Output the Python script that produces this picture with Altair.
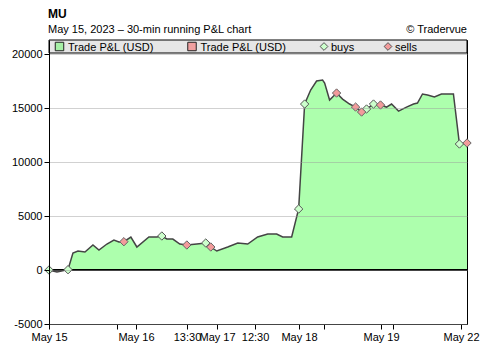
import json
import altair as alt
import pandas as pd

# time position in trading-day units (May 15 = 0, May 22 = 5)
t_days = [0, 0.097, 0.231, 0.291, 0.352, 0.437, 0.534, 0.607, 0.704, 0.789, 0.850, 0.910,
          0.995, 1.068, 1.214, 1.311, 1.371, 1.432, 1.505, 1.590, 1.675, 1.796, 1.905, 1.966,
          2.039, 2.172, 2.294, 2.415, 2.536, 2.658, 2.767, 2.840, 2.949, 3.034, 3.107, 3.180,
          3.252, 3.325, 3.350, 3.410, 3.495, 3.568, 3.653, 3.726, 3.799, 3.859, 3.944, 4.029,
          4.102, 4.163, 4.248, 4.345, 4.430, 4.478, 4.539, 4.600, 4.684, 4.769, 4.915, 4.988, 5.08]
pnl = [0, -185, 30, 1574, 1760, 1667, 2315, 1852, 2408, 2778, 2593, 2620,
       3056, 2130, 3056, 3056, 3148, 2870, 2870, 2408, 2315, 2408, 2500, 2130,
       1760, 2130, 2500, 2408, 3056, 3334, 3334, 3056, 3056, 5650, 15370, 16670,
       17500, 17590, 17320, 15740, 16390, 15830, 15370, 15090, 14630, 14910, 15370, 15280,
       15090, 15370, 14720, 15090, 15370, 15460, 16300, 16200, 16020, 16300, 16300, 11670, 11760]
side = ["buy", "", "buy", "", "", "", "", "", "", "", "", "sell",
        "", "", "", "", "buy", "", "", "", "sell", "", "buy", "sell",
        "", "", "", "", "", "", "", "", "", "buy", "buy", "",
        "", "", "", "", "sell", "", "", "sell", "sell", "buy", "buy", "sell",
        "", "", "", "", "", "", "", "", "", "", "", "buy", "sell"]

tick_vals = [0, 0.826, 1.057, 1.677, 2.042, 2.504, 3.038, 3.342, 4.035, 4.181, 5.007]
tick_labels = ["May 15", "", "May 16", "13:30", "May 17", "12:30", "May 18", "", "May 19", "", "May 22"]
y_ticks = [-5000, 0, 5000, 10000, 15000, 20000]

legend_labels = ["Trade P&L (USD)", "Trade P&L (USD)", "buys", "sells"]
legend_shapes = ["square", "square", "diamond", "diamond"]
legend_fills = ["#a6f0a6", "#f0a0a0", "#ccffcc", "#f29b9b"]
legend_strokes = ["#222222", "#222222", "#555555", "#555555"]
legend_sym_x = [10.5, 143, 275, 339]
legend_txt_x = [19, 151.5, 282, 346]

FONT = "Liberation Sans"
W, H = 418, 284

df = pd.DataFrame({"t": t_days, "v": pnl, "side": side})
df["pos"] = df["v"].clip(lower=0)
df["neg"] = df["v"].clip(upper=0)
df["zero"] = 0

label_expr = f"{json.dumps(tick_labels)}[indexof({json.dumps(tick_vals)}, datum.value)]"

xs = alt.Scale(domain=[0, 5.08], nice=False, zero=False)
ys = alt.Scale(domain=[-5000, 21300], nice=False)

x_axis = alt.Axis(values=tick_vals, labelExpr=label_expr, grid=False, title=None, tickSize=5,
                  labelPadding=2, domainColor="black", tickColor="black", labelColor="black",
                  labelFontSize=11, labelFont=FONT, labelOverlap=False, labelFlush=False)
y_axis = alt.Axis(values=y_ticks, labelExpr="'' + datum.value", grid=True, gridColor="#999999",
                  gridOpacity=0.45, title=None, tickSize=5, labelPadding=2, domainColor="black",
                  tickColor="black", labelColor="black", labelFontSize=11, labelFont=FONT, zindex=1)

base = alt.Chart(df)

area_pos = base.mark_area(color="#adffad", opacity=1).encode(
    x=alt.X("t:Q", scale=xs, axis=x_axis),
    y=alt.Y("pos:Q", scale=ys, axis=y_axis),
    y2="zero:Q",
)
area_neg = base.mark_area(color="#f0a0a0", opacity=1).encode(
    x=alt.X("t:Q"), y=alt.Y("neg:Q"), y2="zero:Q"
)
zero_rule = base.mark_rule(color="black", strokeWidth=1).encode(
    y=alt.datum(0)
)
line = base.mark_line(color="#444444", strokeWidth=1.5).encode(
    x=alt.X("t:Q"), y=alt.Y("v:Q")
)
buys = base.transform_filter(alt.datum.side == "buy").mark_point(
    shape="diamond", filled=True, fill="#ccffcc", stroke="#555555", strokeWidth=1,
    size=70, opacity=1
).encode(x=alt.X("t:Q"), y=alt.Y("v:Q"))
sells = base.transform_filter(alt.datum.side == "sell").mark_point(
    shape="diamond", filled=True, fill="#f29b9b", stroke="#666666", strokeWidth=1,
    size=70, opacity=1, clip=False
).encode(x=alt.X("t:Q"), y=alt.Y("v:Q"))

one = pd.DataFrame({"a": [0]})

# legend band across the top of the plot
leg_layers = [alt.Chart(one).mark_rect(
    fill="#e6e6e6", stroke="black", strokeWidth=1
).encode(x=alt.value(0), x2=alt.value(W), y=alt.value(0), y2=alt.value(13))]

for lab, shp, fil, stk, sx, tx in zip(legend_labels, legend_shapes, legend_fills,
                                       legend_strokes, legend_sym_x, legend_txt_x):
    leg_layers.append(alt.Chart(one).mark_point(
        shape=shp, filled=True, fill=fil, stroke=stk, strokeWidth=1, opacity=1,
        size=72 if shp == "square" else 60
    ).encode(x=alt.value(sx), y=alt.value(6.5)))
    leg_layers.append(alt.Chart(one).mark_text(
        align="left", baseline="alphabetic", font=FONT, fontSize=11, color="black"
    ).encode(x=alt.value(tx), y=alt.value(11), text=alt.value(lab)))

title = alt.Chart(one).mark_text(
    align="left", baseline="alphabetic", font=FONT, fontSize=12, fontWeight="bold", color="black"
).encode(x=alt.value(-1), y=alt.value(-22), text=alt.value("MU"))
subtitle = alt.Chart(one).mark_text(
    align="left", baseline="alphabetic", font=FONT, fontSize=11, color="black"
).encode(x=alt.value(-1), y=alt.value(-7), text=alt.value("May 15, 2023 \u2013 30-min running P&L chart"))
credit = alt.Chart(one).mark_text(
    align="right", baseline="alphabetic", font=FONT, fontSize=11, color="black"
).encode(x=alt.value(W), y=alt.value(-7), text=alt.value("\u00a9 Tradervue"))

chart = alt.layer(
    area_pos, area_neg, line, zero_rule, buys, sells,
    *leg_layers, title, subtitle, credit
).properties(
    width=W, height=H,
    autosize=alt.AutoSizeParams(type="none"),
    padding={"left": 49, "top": 40, "right": 23, "bottom": 33},
).configure_view(stroke="black", strokeWidth=1)

chart.save("out.html", embed_options={"renderer": "svg", "actions": False})
